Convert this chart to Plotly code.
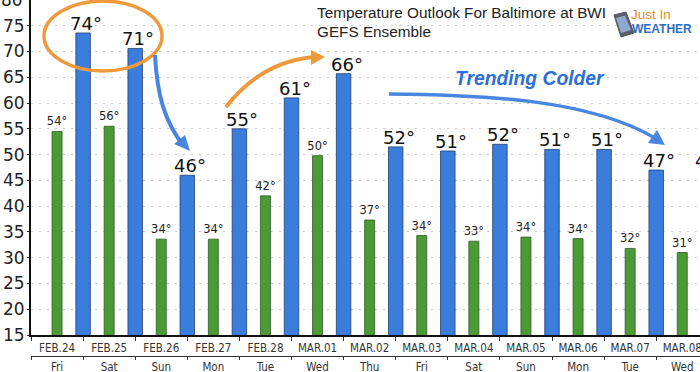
import plotly.graph_objects as go

dates = ["FEB.24","FEB.25","FEB.26","FEB.27","FEB.28","MAR.01","MAR.02","MAR.03","MAR.04","MAR.05","MAR.06","MAR.07","MAR.08"]
days = ["Fri","Sat","Sun","Mon","Tue","Wed","Thu","Fri","Sat","Sun","Mon","Tue","Wed"]
high_vals = [73.6,70.6,46.0,55.0,61.0,65.7,51.5,50.7,52.0,51.0,51.0,47.0,47.0]
high_lbls = ["74°","71°","46°","55°","61°","66°","52°","51°","52°","51°","51°","47°","47°"]
low_vals = [54.5,55.5,33.6,33.6,42.0,49.8,37.3,34.3,33.2,34.0,33.7,31.8,31.0]
low_lbls = ["54°","56°","34°","34°","42°","50°","37°","34°","33°","34°","34°","32°","31°"]
y_ticks = [15,20,25,30,35,40,45,50,55,60,65,70,75]

W, H = 730, 372
L, BASE = 31, 335
STEP = 52.1
idx = list(range(len(dates)))
x_range = [-0.5, -0.5 + (W - L) / STEP]

def px(x): return (x - L) / (W - L)
def py(y): return 1 - y / H
def path(cmds):
    out = []
    for c in cmds:
        if isinstance(c, str):
            out.append(c)
        else:
            out.append(f"{px(c[0]):.5f},{py(c[1]):.5f}")
    return " ".join(out)

BLUE = "#3b7ddd"
GREEN = "#4a9a35"
ORANGE = "#ee9a3c"
ARROW = "#4a86e0"
FONT = "DejaVu Sans"
COND = "DejaVu Sans Condensed, DejaVu Sans"

fig = go.Figure()
fig.add_bar(x=[i + 0.5 for i in idx], y=high_vals, width=14.5 / STEP,
            marker=dict(color=BLUE, line=dict(color="#1f3f70", width=0.8)), name="High")
fig.add_bar(x=idx, y=low_vals, width=10 / STEP,
            marker=dict(color=GREEN, line=dict(color="#2e5a24", width=0.8)),
            text=low_lbls, textposition="outside", cliponaxis=False, constraintext="none", textangle=0,
            textfont=dict(family=FONT, size=11.5, color="#222222"), name="Low")
fig.add_scatter(x=idx, y=low_vals, xaxis="x2", mode="markers", marker=dict(opacity=0), hoverinfo="skip", showlegend=False)

shapes = [
    dict(type="circle", xref="paper", yref="paper", x0=px(44), x1=px(162), y0=py(71), y1=py(1),
         line=dict(color=ORANGE, width=3.5), layer="above"),
    dict(type="path", xref="paper", yref="paper", line=dict(color=ARROW, width=4), layer="above",
         path=path(["M", (155, 55), "C", (157, 95), (165, 122), (183, 145)])),
    dict(type="path", xref="paper", yref="paper", fillcolor=ARROW, line=dict(width=0), layer="above",
         path=path(["M", (190, 151), "L", (174, 144), "L", (185, 135), "Z"])),
    dict(type="path", xref="paper", yref="paper", line=dict(color=ORANGE, width=4), layer="above",
         path=path(["M", (226, 107), "C", (250, 76), (280, 60), (314, 57)])),
    dict(type="path", xref="paper", yref="paper", fillcolor=ORANGE, line=dict(width=0), layer="above",
         path=path(["M", (325, 57), "L", (311, 50), "L", (311, 65), "Z"])),
    dict(type="path", xref="paper", yref="paper", line=dict(color=ARROW, width=3.5), layer="above",
         path=path(["M", (389, 94), "C", (490, 95), (590, 100), (655, 138)])),
    dict(type="path", xref="paper", yref="paper", fillcolor=ARROW, line=dict(width=0), layer="above",
         path=path(["M", (665, 145), "L", (648, 143), "L", (657, 130), "Z"])),
    # logo phone
    dict(type="path", xref="paper", yref="paper", fillcolor="#5a5f68", line=dict(color="#555555", width=1), layer="above",
         path=path(["M", (614, 15), "L", (626, 12), "L", (634, 33), "L", (621, 37), "Z"])),
    dict(type="path", xref="paper", yref="paper", fillcolor="#8fa8cf", line=dict(width=0), layer="above",
         path=path(["M", (616, 18), "L", (625, 15.5), "L", (631, 30), "L", (621, 33), "Z"])),
]

anns = [
    dict(text="Temperature Outlook For Baltimore at BWI", x=px(317), y=py(13), size=15.3, color="#222222", family="Liberation Sans"),
    dict(text="GEFS Ensemble", x=px(317), y=py(31), size=15.3, color="#222222", family="Liberation Sans"),
    dict(text="<b><i>Trending Colder</i></b>", x=px(455), y=py(78), size=19.3, color="#2c6fd8", family="Liberation Sans"),
    dict(text="Just In", x=px(631), y=py(15), size=13.5, color="#e88a30", family="Liberation Sans"),
    dict(text="<b>WEATHER</b>", x=px(632), y=py(29), size=12, color="#2f6fc0", family="Liberation Sans"),
]

annotations = [dict(xref="paper", yref="paper", x=a["x"], y=a["y"], text=a["text"], showarrow=False,
                    xanchor="left", yanchor="middle", borderpad=0, borderwidth=0,
                    font=dict(size=a["size"], color=a["color"], family=a["family"])) for a in anns]
annotations += [dict(x=i + 0.5, y=v, xref="x", yref="y", text=t, showarrow=False, xanchor="center", yanchor="bottom",
                     xshift=3, yshift=-2, borderpad=0, font=dict(family=FONT, size=18, color="#111111"))
                for i, v, t in zip(idx, high_vals, high_lbls)]
annotations.append(dict(x=-0.01, xref="paper", y=80, yref="y", text="80", showarrow=False, xanchor="right", yanchor="middle",
                        borderpad=0, font=dict(family=FONT, size=17, color="#222222")))

fig.update_layout(
    width=W, height=H, autosize=False,
    margin=dict(l=L, r=0, t=0, b=0, pad=0, autoexpand=False),
    paper_bgcolor="white", plot_bgcolor="white",
    showlegend=False, barmode="overlay",
    shapes=shapes, annotations=annotations,
    xaxis=dict(range=x_range, tickmode="array", tickvals=idx, ticktext=dates, ticks="", showgrid=False,
               showline=True, linecolor="#111111", linewidth=1.5, zeroline=False, automargin=False,
               tickfont=dict(family=COND, size=11.5, color="#333333"),
               ticklabelstandoff=1,
               minor=dict(ticks="outside", ticklen=4, tickcolor="#333333", tickwidth=1, tick0=0.5, dtick=1, showgrid=False)),
    xaxis2=dict(range=x_range, overlaying="x", anchor="free", position=py(356), side="bottom",
                tickmode="array", tickvals=idx, ticktext=days, ticks="", showgrid=False, automargin=False,
                showline=True, linecolor="#333333", linewidth=1, zeroline=False,
                tickfont=dict(family=COND, size=11.5, color="#333333"), ticklabelstandoff=0,
                minor=dict(ticks="outside", ticklen=3, tickcolor="#333333", tickwidth=1, tick0=0.5, dtick=1, showgrid=False)),
    yaxis=dict(domain=[(H - BASE) / H, 1], range=[15, 80], tickmode="array", tickvals=y_ticks, automargin=False,
               ticks="outside", ticklen=2, tickcolor="#333333", showgrid=True,
               gridcolor="#c8c8c8", griddash="2px,6px", gridwidth=1, showline=True, linecolor="#111111", linewidth=2,
               zeroline=False, tickfont=dict(family=FONT, size=17, color="#222222"), ticklabelstandoff=-1),
)
fig.write_html("out.html", config=dict(displayModeBar=False),
               post_script="document.body.style.margin='0';document.documentElement.style.overflow='hidden';document.body.style.overflow='hidden';")
